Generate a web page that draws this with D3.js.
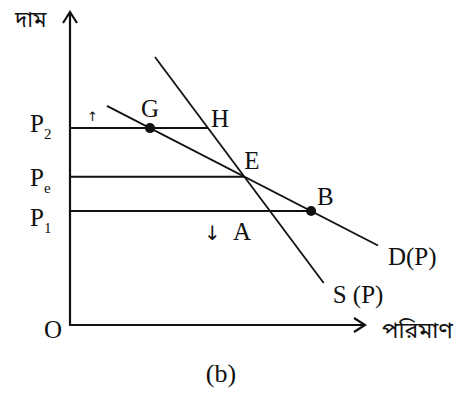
<!DOCTYPE html>
<html>
<head>
<meta charset="utf-8">
<script src="https://cdn.jsdelivr.net/npm/d3@7"></script>
<style>
  body { margin: 0; background: #fff; }
  svg text { font-family: "Liberation Serif", "DejaVu Serif", serif; fill: #111; }
  svg text.arr { font-family: "DejaVu Sans", sans-serif; }
  .bn { font-family: "Noto Sans Bengali", "Noto Serif Bengali", "Lohit Bengali", "Liberation Serif", serif; }
</style>
</head>
<body>
<svg width="462" height="394"></svg>
<script>
// price / quantity in arbitrary units (0..100)
var demandPts = [[12.5, 70.0], [104.4, 25.4]];
var supplyPts = [[28.8, 85.6], [86.0, 13.4]];
var priceHigh = 62.9;   // P2
var priceLow = 36.4;    // P1
var priceLabels = [['P', '2'], ['P', 'e'], ['P', '1']];

var x = d3.scaleLinear().domain([0, 100]).range([70, 365]);
var y = d3.scaleLinear().domain([0, 100]).range([325, 12]);

var svg = d3.select('svg');

// helpers on a two-point line
function qAt(pts, p) {
  var a = pts[0], b = pts[1];
  return a[0] + (p - a[1]) * (b[0] - a[0]) / (b[1] - a[1]);
}
function crossing(l1, l2) {
  var m1 = (l1[1][1] - l1[0][1]) / (l1[1][0] - l1[0][0]);
  var m2 = (l2[1][1] - l2[0][1]) / (l2[1][0] - l2[0][0]);
  var q = (l2[0][1] - l1[0][1] + m1 * l1[0][0] - m2 * l2[0][0]) / (m1 - m2);
  return [q, l1[0][1] + m1 * (q - l1[0][0])];
}

var E = crossing(demandPts, supplyPts);
var G = [qAt(demandPts, priceHigh), priceHigh];
var H = [qAt(supplyPts, priceHigh), priceHigh];
var B = [qAt(demandPts, priceLow), priceLow];
var A = [qAt(supplyPts, priceLow), priceLow];

var line = d3.line().x(d => x(d[0])).y(d => y(d[1]));

// axes
svg.append('path')
  .attr('d', line([[0, 100], [0, 0], [100, 0]]))
  .attr('fill', 'none').attr('stroke', '#111').attr('stroke-width', 2.2);
svg.append('path')
  .attr('d', 'M' + (x(0) - 7) + ',' + (y(100) + 11) + 'L' + x(0) + ',' + y(100) + 'L' + (x(0) + 7) + ',' + (y(100) + 11))
  .attr('fill', 'none').attr('stroke', '#111').attr('stroke-width', 2.2);
svg.append('path')
  .attr('d', 'M' + (x(100) - 11) + ',' + (y(0) - 7) + 'L' + x(100) + ',' + y(0) + 'L' + (x(100) - 11) + ',' + (y(0) + 7))
  .attr('fill', 'none').attr('stroke', '#111').attr('stroke-width', 2.2);

// price levels
var levels = [[priceHigh, H[0]], [E[1], E[0]], [priceLow, B[0]]];
svg.selectAll('line.level')
  .data(levels)
  .enter()
  .append('line')
    .attr('class', 'level')
    .attr('x1', x(0)).attr('x2', d => x(d[1]))
    .attr('y1', d => y(d[0])).attr('y2', d => y(d[0]))
    .attr('stroke', '#111').attr('stroke-width', 2);

// curves
svg.append('path').attr('d', line(demandPts))
  .attr('fill', 'none').attr('stroke', '#111').attr('stroke-width', 1.8);
svg.append('path').attr('d', line(supplyPts))
  .attr('fill', 'none').attr('stroke', '#111').attr('stroke-width', 1.8);

// points G and B
svg.selectAll('circle')
  .data([G, B])
  .enter()
  .append('circle')
    .attr('cx', d => x(d[0])).attr('cy', d => y(d[1]))
    .attr('r', 5).attr('fill', '#111');

// price labels
var labelY = [priceHigh, E[1], priceLow];
var pl = svg.selectAll('text.plab')
  .data(priceLabels)
  .enter()
  .append('text')
    .attr('class', 'plab')
    .attr('x', 30)
    .attr('y', (d, i) => y(labelY[i]) + [4, 9, 15][i])
    .style('font-size', '25px');
pl.append('tspan').text(d => d[0]);
pl.append('tspan').attr('dy', 7).style('font-size', '15px').text(d => d[1]);

// point letters
var letters = [
  ['G', G, -9, -11],
  ['H', H, 3, -1],
  ['E', E, 0, -8],
  ['B', B, 6, -6],
  ['A', A, -37, 29]
];
svg.selectAll('text.pt')
  .data(letters)
  .enter()
  .append('text')
    .attr('class', 'pt')
    .attr('x', d => x(d[1][0]) + d[2])
    .attr('y', d => y(d[1][1]) + d[3])
    .style('font-size', '25px')
    .text(d => d[0]);

// arrows near price levels
svg.append('text').attr('class', 'arr').attr('x', 204).attr('y', y(priceLow) + 29)
  .style('font-size', '20px').text('\u2193');
svg.append('text').attr('class', 'arr').attr('x', 87).attr('y', y(priceHigh) - 7)
  .style('font-size', '13px').text('\u2191');

// curve labels
svg.append('text').attr('x', x(demandPts[1][0]) + 10).attr('y', y(demandPts[1][1]) + 20)
  .style('font-size', '25px').text('D(P)');
svg.append('text').attr('x', x(supplyPts[1][0]) + 9).attr('y', y(supplyPts[1][1]) + 20)
  .style('font-size', '25px').text('S (P)');

// axis labels
svg.append('text').attr('x', 44).attr('y', 338).style('font-size', '25px').text('O');
svg.append('text').attr('class', 'bn').attr('x', 15).attr('y', 27).style('font-size', '22px').text('দাম');
svg.append('text').attr('class', 'bn').attr('x', 382).attr('y', 338).style('font-size', '23px').text('পরিমাণ');
svg.append('text').attr('x', 221).attr('y', 382).attr('text-anchor', 'middle')
  .style('font-size', '26px').text('(b)');
</script>
</body>
</html>
